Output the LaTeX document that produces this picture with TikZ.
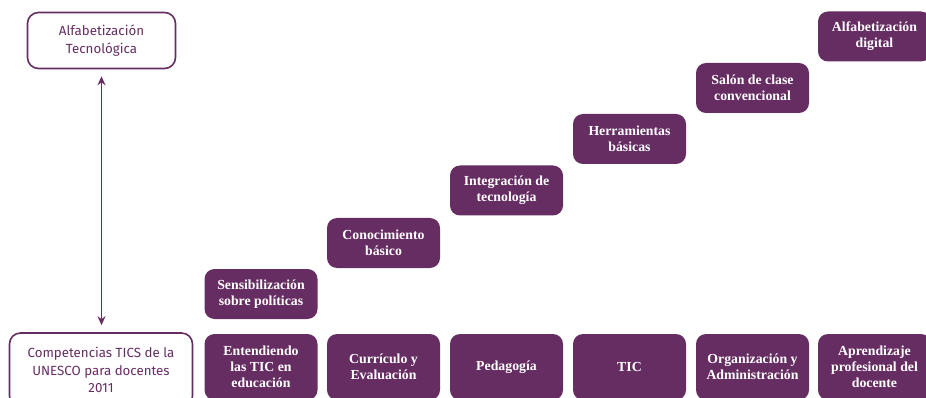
\documentclass[tikz,border=0pt]{standalone}
\usepackage{fontspec}
\setmainfont{Liberation Serif}
\newfontfamily\labelsans{Fira Sans}
\usetikzlibrary{arrows.meta}
\definecolor{plum}{RGB}{102,45,99}
\begin{document}
\begin{tikzpicture}[x=1pt,y=-1pt,
  stage/.style={fill=plum, rounded corners=10pt, text=white, align=center,
    font=\fontsize{13.8}{16}\selectfont\bfseries, minimum width=113pt,
    minimum height=50pt, inner sep=1pt},
  area/.style={stage, minimum height=66pt},
  frame/.style={draw=plum, line width=1.6pt, rounded corners=11pt, text=plum,
    align=center, font=\labelsans\fontsize{13.3}{17.5}\selectfont, inner sep=1pt}]
\useasboundingbox (0,0) rectangle (926,398);
\clip (0,0) rectangle (926,398);

% left column: literacy frame and competency frame
\node[frame, minimum width=148pt, minimum height=56pt] (alf) at (101.5,40.5)
  {Alfabetización\\Tecnológica};
\node[frame, minimum width=183pt, minimum height=74pt] (comp) at (101,370)
  {Competencias TICS de la\\UNESCO para docentes\\2011};
\draw[plum, line width=1.5pt, {Stealth[length=9pt,width=8pt]}-{Stealth[length=9pt,width=8pt]},
  shorten <=7pt, shorten >=7pt] (alf.south) -- (alf.south |- comp.north);

% staircase of stages
\node[stage] (s1) at (261,294)   {Sensibilización\\sobre políticas};
\node[stage] (s2) at (383.5,243) {Conocimiento\\básico};
\node[stage] (s3) at (506.5,190.5) {Integración de\\tecnología};
\node[stage] (s4) at (629.5,139) {Herramientas\\básicas};
\node[stage] (s5) at (752.5,88)  {Salón de clase\\convencional};
\node[stage] (s6) at (874.5,36.5) {Alfabetización\\digital};

% bottom row of areas
\node[area] (a1) at (261,367)   {Entendiendo\\las TIC en\\educación};
\node[area] (a2) at (383.5,367) {Currículo y\\Evaluación};
\node[area] (a3) at (506.5,367) {Pedagogía};
\node[area] (a4) at (629.5,367) {TIC};
\node[area] (a5) at (752.5,367) {Organización y\\Administración};
\node[area] (a6) at (874.5,367) {Aprendizaje\\profesional del\\docente};
\end{tikzpicture}
\end{document}
